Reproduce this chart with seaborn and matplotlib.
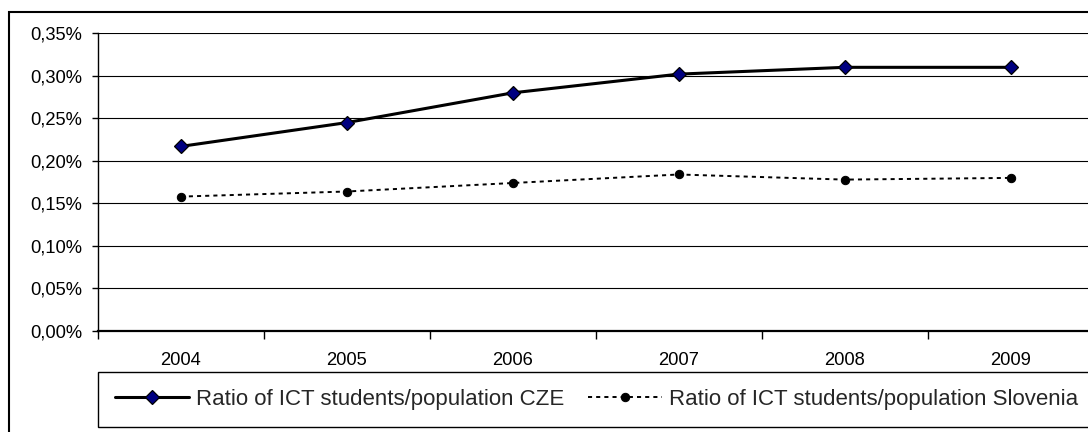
import matplotlib
matplotlib.use("Agg")
import matplotlib.pyplot as plt
import numpy as np
import pandas as pd
import seaborn as sns
from matplotlib.patches import Rectangle
from matplotlib.ticker import FuncFormatter, MultipleLocator

# data (values in percent of population)
years = ["2004", "2005", "2006", "2007", "2008", "2009"]
cze_ratio = [0.217, 0.245, 0.280, 0.302, 0.310, 0.310]
slo_ratio = [0.158, 0.164, 0.174, 0.184, 0.178, 0.180]
series_names = ["Ratio of ICT students/population CZE",
                "Ratio of ICT students/population Slovenia"]
y_ticks = [0.00, 0.05, 0.10, 0.15, 0.20, 0.25, 0.30, 0.35]

sns.set_style("white")
plt.rcParams["font.family"] = ["Liberation Sans", "DejaVu Sans"]

df = pd.concat([
    pd.DataFrame({"year": years, "ratio": cze_ratio, "series": series_names[0]}),
    pd.DataFrame({"year": years, "ratio": slo_ratio, "series": series_names[1]}),
], ignore_index=True)

W, H = 1088, 432
fig = plt.figure(figsize=(W / 100, H / 100), dpi=100)
ax = fig.add_axes([97.7 / W, 1 - 331 / H, (1093.7 - 97.7) / W, (331 - 33.3) / H])

sns.lineplot(data=df[df["series"] == series_names[0]], x="year", y="ratio", ax=ax,
             color="black", linewidth=2.2, marker="D", markersize=7.5,
             markerfacecolor="#000080", markeredgecolor="black", markeredgewidth=0.9,
             label=series_names[0], sort=False, zorder=4)
sns.lineplot(data=df[df["series"] == series_names[1]], x="year", y="ratio", ax=ax,
             color="black", linewidth=1.4, linestyle=(0, (2.1, 2.1)), marker="o",
             markersize=6, markerfacecolor="black", markeredgecolor="black",
             label=series_names[1], sort=False, zorder=3)

ax.set_xlim(-0.5, len(years) - 0.5)
ax.set_ylim(0, 0.35)
ax.set_yticks(y_ticks)
ax.yaxis.set_major_formatter(FuncFormatter(lambda v, p: f"{v:.2f}%".replace(".", ",")))
ax.set_xlabel("")
ax.set_ylabel("")

# category boundaries as minor ticks, labels at centres
ax.xaxis.set_minor_locator(MultipleLocator(1, offset=0.5))
ax.tick_params(axis="x", which="major", length=0, pad=15, labelsize=13.2, colors="black")
ax.tick_params(axis="x", which="minor", length=5.5, width=1, color="black", bottom=True)
ax.tick_params(axis="y", which="major", length=4.3, width=1, color="black", left=True,
               pad=7, labelsize=13.2, labelcolor="black")

ax.grid(False)
for v in y_ticks[1:]:
    ax.axhline(v, color="black", linewidth=0.8, zorder=1)

for side in ["top", "right"]:
    ax.spines[side].set_visible(False)
ax.spines["left"].set_color("black")
ax.spines["left"].set_linewidth(1.0)
ax.spines["bottom"].set_color("black")
ax.spines["bottom"].set_linewidth(1.6)

ax.get_legend().remove()
handles, labels = ax.get_legend_handles_labels()
fig.legend(handles, labels, loc="lower left", bbox_to_anchor=(97.7 / W, 1 - 427 / H),
           bbox_transform=fig.transFigure, ncol=2, frameon=True, fancybox=False,
           edgecolor="black", framealpha=1, fontsize=16, handlelength=3.35,
           handletextpad=0.32, columnspacing=1.05, borderpad=0.76, borderaxespad=0,
           numpoints=1)
fig.legends[0].get_frame().set_linewidth(1.0)

# outer chart border (cropped on the right and bottom)
fig.add_artist(Rectangle((9 / W, -0.2), 1.2, 1 - 12 / H + 0.2, transform=fig.transFigure,
                         fill=False, edgecolor="black", linewidth=1.5))

fig.savefig("out.png", dpi=100)
